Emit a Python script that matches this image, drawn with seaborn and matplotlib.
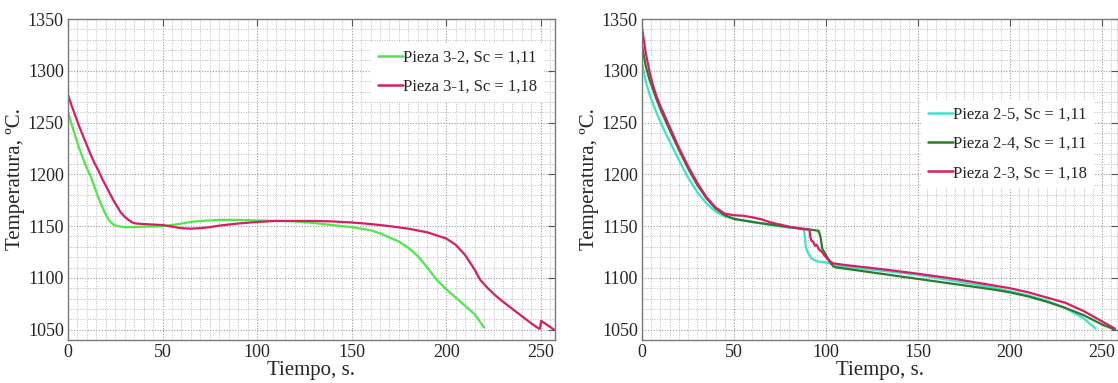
import matplotlib
matplotlib.use("Agg")
import matplotlib.pyplot as plt
import seaborn as sns
import pandas as pd
from matplotlib.ticker import MultipleLocator

# ---------------- data ----------------
# Left panel
t_32 = [0, 2, 4, 6, 8, 10, 12, 14, 16, 18, 20, 22, 24, 26, 30, 35, 40, 45, 50, 55, 60, 65,
        70, 75, 80, 90, 100, 110, 120, 130, 140, 150, 155, 160, 165, 170, 175, 180, 185, 190,
        195, 200, 205, 210, 215, 220]
T_32 = [1260, 1248, 1236, 1225, 1215, 1206, 1198, 1188, 1178, 1169, 1161, 1155, 1151.5, 1150,
        1149, 1149, 1149.5, 1149.5, 1150, 1151, 1152.5, 1154, 1155, 1155.5, 1156, 1156, 1155.5,
        1155, 1154.5, 1153, 1151, 1149, 1147.5, 1146, 1143, 1139, 1135, 1129, 1121, 1110, 1098,
        1089, 1081, 1073, 1065, 1052]

t_31 = [0, 2, 4, 6, 8, 10, 12, 14, 16, 18, 20, 22, 24, 26, 28, 30, 32, 34, 36, 40, 45, 50, 55,
        60, 65, 70, 75, 80, 90, 100, 110, 120, 130, 140, 150, 160, 170, 180, 190, 195, 200, 205,
        210, 215, 218, 222, 226, 230, 235, 240, 245, 249, 249.6, 250.2, 253, 257]
T_31 = [1277, 1266, 1256, 1246, 1237, 1228, 1219, 1211, 1204, 1196, 1189, 1182, 1175, 1169,
        1163, 1159, 1156, 1153.5, 1152.5, 1152, 1151.5, 1151, 1149.5, 1148, 1147.5, 1148, 1149,
        1150.5, 1152.5, 1154, 1155, 1155, 1155, 1154.5, 1153.5, 1152, 1150, 1147.5, 1144, 1141,
        1138, 1132, 1122, 1108, 1098, 1090, 1083, 1077, 1070, 1063, 1056, 1051, 1051, 1058.5,
        1055, 1050]

# Right panel
t_25 = [0, 2, 4, 6, 8, 10, 12, 15, 20, 25, 30, 35, 40, 45, 50, 55, 60, 70, 80, 88, 88.5, 89,
        90, 92, 95, 100, 102, 105, 110, 130, 150, 170, 190, 200, 210, 220, 230, 235, 240, 246.5]
T_25 = [1308, 1290, 1278, 1268, 1259, 1251, 1243, 1232, 1214, 1197, 1183, 1172, 1164, 1159.5,
        1157, 1155.5, 1154, 1151, 1148.5, 1147, 1140, 1130, 1125, 1119, 1116, 1115, 1114, 1112,
        1110.5, 1107, 1103, 1097, 1091, 1087, 1083, 1078, 1071, 1066, 1061, 1051]

t_24 = [0, 2, 4, 6, 8, 10, 12, 15, 20, 25, 30, 35, 40, 45, 50, 60, 70, 80, 90, 94, 96, 97, 98,
        100, 102, 104, 106, 110, 130, 150, 170, 190, 200, 210, 220, 230, 240, 250, 257]
T_24 = [1325, 1305, 1292, 1282, 1272, 1263, 1255, 1243, 1224, 1206, 1190, 1177, 1167, 1160.5,
        1157, 1154, 1151.5, 1149, 1147, 1146, 1145.5, 1140, 1128, 1122, 1116, 1111, 1110, 1109,
        1104, 1099, 1094, 1089, 1086, 1082, 1077, 1071, 1064, 1055, 1050]

t_23 = [0, 1, 2, 4, 6, 8, 10, 12, 15, 20, 25, 30, 35, 40, 45, 50, 55, 60, 65, 70, 80, 88, 91,
        91.5, 92, 93, 94, 95, 96, 97, 98, 99, 100, 102, 104, 110, 130, 150, 170, 190, 200, 210,
        220, 230, 240, 250, 257]
T_23 = [1342, 1330, 1318, 1300, 1286, 1275, 1266, 1258, 1246, 1226, 1208, 1192, 1178, 1168,
        1162, 1160.5, 1160, 1158.5, 1156.5, 1153.5, 1149.5, 1147, 1146.5, 1140, 1136, 1135, 1131,
        1132, 1128, 1126, 1125, 1122, 1120, 1116, 1114, 1112.5, 1108.5, 1104, 1099, 1093, 1090,
        1086, 1081, 1076, 1068, 1058, 1051]

left_series = [("Pieza 3-2, Sc = 1,11", t_32, T_32, "#4ee84a"),
               ("Pieza 3-1, Sc = 1,18", t_31, T_31, "#d81d62")]
right_series = [("Pieza 2-5, Sc = 1,11", t_25, T_25, "#3fe3cc"),
                ("Pieza 2-4, Sc = 1,11", t_24, T_24, "#2a7d2a"),
                ("Pieza 2-3, Sc = 1,18", t_23, T_23, "#d81d62")]

x_label = "Tiempo, s."
y_label = "Temperatura, ºC."

# ---------------- style ----------------
sns.set_style("white")
plt.rcParams["font.family"] = ["Liberation Serif", "DejaVu Serif"]

fig = plt.figure(figsize=(11.18, 3.83), dpi=100)
axL = fig.add_axes([0.0608, 0.1123, 0.4356, 0.838])
axR = fig.add_axes([0.5742, 0.1123, 0.4258, 0.838])


def draw(ax, series, xmax, legend_anchor):
    for label, t, T, c in series:
        df = pd.DataFrame({"t": t, "T": T})
        sns.lineplot(data=df, x="t", y="T", ax=ax, color=c, lw=1.6, label=label,
                     sort=False, estimator=None)
    ax.set_xlim(0, xmax)
    ax.set_ylim(1040, 1350)
    ax.xaxis.set_major_locator(MultipleLocator(50))
    ax.xaxis.set_minor_locator(MultipleLocator(5))
    ax.yaxis.set_major_locator(MultipleLocator(50))
    ax.yaxis.set_minor_locator(MultipleLocator(10))
    ax.grid(which="major", color="#9a9a9a", ls=(0, (1, 1.5)), lw=0.8)
    ax.grid(which="minor", color="#bdbdbd", ls=(0, (1, 1.5)), lw=0.7)
    ax.set_axisbelow(True)
    ax.tick_params(which="major", direction="in", length=5, width=0.8, color="#555555",
                   top=True, right=True, labelsize=13, pad=3)
    ax.tick_params(which="minor", length=0)
    for s in ax.spines.values():
        s.set_color("#7a7a7a")
        s.set_linewidth(1.0)
    ax.set_xlabel(x_label, fontsize=15, labelpad=0)
    ax.set_ylabel(y_label, fontsize=15, labelpad=2)
    leg = ax.legend(loc="upper left", bbox_to_anchor=legend_anchor, borderaxespad=0,
                    fontsize=12, frameon=True, fancybox=False, framealpha=1,
                    facecolor="white", edgecolor="none", handlelength=1.5,
                    handletextpad=0.05, labelspacing=0.8, borderpad=0.4)
    for ln in leg.get_lines():
        ln.set_linewidth(1.8)


draw(axL, left_series, 257.5, (0.622, 0.925))
draw(axR, right_series, 258.7, (0.586, 0.748))

fig.savefig("out.png", dpi=100)
